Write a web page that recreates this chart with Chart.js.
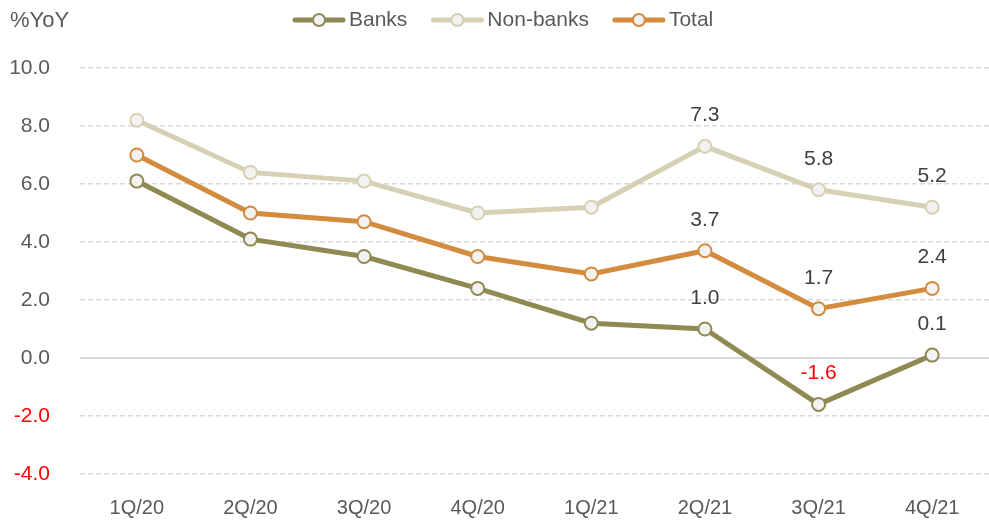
<!DOCTYPE html>
<html>
<head>
<meta charset="utf-8">
<script src="https://cdn.jsdelivr.net/npm/chart.js@4"></script>
<style>
  html, body { margin: 0; padding: 0; background: #fff; overflow: hidden; }
  canvas { display: block; }
</style>
</head>
<body>
<canvas id="growthChart" width="989" height="521"></canvas>
<script>
// 季度标签与同比数据
const quarters = ['1Q/20', '2Q/20', '3Q/20', '4Q/20', '1Q/21', '2Q/21', '3Q/21', '4Q/21'];
const banks = [6.1, 4.1, 3.5, 2.4, 1.2, 1.0, -1.6, 0.1];
const nonBanks = [8.2, 6.4, 6.1, 5.0, 5.2, 7.3, 5.8, 5.2];
const total = [7.0, 5.0, 4.7, 3.5, 2.9, 3.7, 1.7, 2.4];
const labelFrom = 5;   // 只标注最后三个季度

const FONT = '"Liberation Sans", Arial, sans-serif';
const GREY = '#595959';
const RED = '#ff0000';

function series(label, data, color) {
    return {
        label: label,
        data: data,
        borderColor: color,
        backgroundColor: color,
        borderWidth: 5,
        tension: 0,
        pointRadius: 6.5,
        pointHoverRadius: 6.5,
        pointBorderWidth: 2,
        pointBorderColor: color,
        pointBackgroundColor: '#f2f2f2'
    };
}

// 左上角单位 + 顶部图例
const headerPlugin = {
    id: 'header',
    afterDraw(chart) {
        const ctx = chart.ctx;
        ctx.save();
        ctx.fillStyle = GREY;
        ctx.font = '22px ' + FONT;
        ctx.textAlign = 'left';
        ctx.textBaseline = 'middle';
        ctx.fillText('%YoY', 10, 21);

        ctx.font = '21px ' + FONT;
        let x = 293;
        const y = 20;
        chart.data.datasets.forEach(ds => {
            ctx.strokeStyle = ds.borderColor;
            ctx.lineWidth = 5;
            ctx.lineCap = 'round';
            ctx.beginPath();
            ctx.moveTo(x + 2, y);
            ctx.lineTo(x + 50, y);
            ctx.stroke();
            ctx.beginPath();
            ctx.arc(x + 26, y, 6, 0, Math.PI * 2);
            ctx.fillStyle = '#f2f2f2';
            ctx.fill();
            ctx.lineWidth = 2;
            ctx.stroke();
            ctx.fillStyle = GREY;
            ctx.fillText(ds.label, x + 56, y);
            x += 56 + ctx.measureText(ds.label).width + 24;
        });
        ctx.restore();
    }
};

// 数据标签
const valueLabels = {
    id: 'valueLabels',
    afterDatasetsDraw(chart) {
        const ctx = chart.ctx;
        ctx.save();
        ctx.font = '21px ' + FONT;
        ctx.textAlign = 'center';
        ctx.textBaseline = 'alphabetic';
        chart.data.datasets.forEach((ds, i) => {
            const meta = chart.getDatasetMeta(i);
            meta.data.forEach((pt, j) => {
                if (j < labelFrom) return;
                const v = ds.data[j];
                ctx.fillStyle = v < 0 ? RED : '#404040';
                ctx.fillText(v.toFixed(1), pt.x, pt.y - 25);
            });
        });
        ctx.restore();
    }
};

new Chart(document.getElementById('growthChart'), {
    type: 'line',
    data: {
        labels: quarters,
        datasets: [
            series('Banks', banks, '#8e8a52'),
            series('Non-banks', nonBanks, '#d6d0b4'),
            series('Total', total, '#d38b3e')
        ]
    },
    options: {
        responsive: false,
        animation: false,
        layout: { autoPadding: false, padding: { top: 68, left: 0, right: 0, bottom: 0 } },
        plugins: {
            legend: { display: false },
            tooltip: { enabled: false }
        },
        scales: {
            x: {
                offset: true,
                afterFit(scale) { scale.height = 47; },
                grid: { display: false, drawTicks: false },
                border: { display: false },
                ticks: { color: GREY, font: { family: FONT, size: 20 }, padding: 22, maxRotation: 0 }
            },
            y: {
                min: -4,
                max: 10,
                afterFit(scale) { scale.width = 80; },
                border: {
                    display: false,
                    // 零线为实线，其余为虚线
                    dash: ctx => ctx.tick && ctx.tick.value === 0 ? [] : [5, 3]
                },
                grid: {
                    drawTicks: false,
                    color: '#d9d9d9',
                    lineWidth: ctx => ctx.tick && ctx.tick.value === 0 ? 2 : 1.5
                },
                ticks: {
                    stepSize: 2,
                    padding: 30,
                    font: { family: FONT, size: 21 },
                    color: ctx => ctx.tick && ctx.tick.value < 0 ? RED : GREY,
                    callback: v => Number(v).toFixed(1)
                }
            }
        }
    },
    plugins: [headerPlugin, valueLabels]
});
</script>
</body>
</html>
